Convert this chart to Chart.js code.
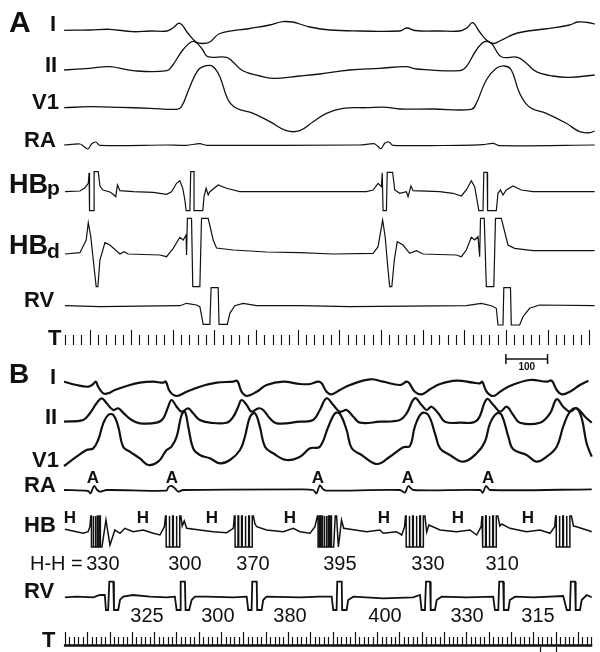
<!DOCTYPE html>
<html>
<head>
<meta charset="utf-8">
<script src="https://cdn.jsdelivr.net/npm/chart.js@4/dist/chart.umd.min.js"></script>
<style>
html, body { margin: 0; padding: 0; background: #fff; }
#wrap { width: 600px; height: 652px; }
</style>
</head>
<body>
<div id="wrap"><canvas id="ecg" width="600" height="652"></canvas></div>
<script>
// samples are [time in ms, deflection] read off the tracing
// panel A (sinus beats)
var aLeadI = [[-61,0.7],[1,1],[49,1.7],[104,-0.7],[145,0],[186,0],[200,3],[217,7.7],[236,-2],[256,-11],[272,-12.5],[289,-11],[313,-2.5],[385,2.5],[433,6],[464,9.3],[488,9],[505,7],[529,4],[577,1],[649,0],[745,0],[762,3],[781,0.5],[841,0],[889,0],[906,3],[920,8.3],[937,-1],[956,-10],[971,-12.5],[985,-10],[1028,-2],[1093,2],[1153,6],[1172,9],[1196,8.5],[1213,7]];
var aLeadII = [[-61,0],[1,1.7],[49,3.3],[104,-0.7],[186,-0.7],[200,5],[224,20],[245,28.3],[257,27.3],[272,20],[284,13.3],[329,12.7],[344,8.3],[368,-0.7],[409,-6],[440,-8.3],[505,-6],[553,-4],[625,0],[697,1.7],[761,3.3],[785,1],[889,-0.7],[905,3.3],[929,20],[949,28.3],[965,26.7],[989,13.3],[1028,12.7],[1049,6.7],[1073,-1.7],[1112,-6],[1153,-7.3],[1213,-5]];
var aV1 = [[-61,0.3],[1,1.3],[73,0.7],[145,-0.3],[209,-1.3],[221,1.3],[241,21.3],[261,38],[281,42.3],[297,41.3],[313,31.3],[333,8],[353,-0.3],[393,-5.3],[433,-13.7],[473,-22.7],[505,-22.7],[537,-13.7],[569,-5.3],[609,-0.3],[665,0.3],[713,0.7],[745,-1],[825,-1],[917,-1.3],[929,4.7],[953,28],[977,39.7],[997,42],[1013,38],[1033,14.7],[1057,0.7],[1097,-5.3],[1145,-15.3],[1177,-23.7],[1201,-24.7],[1213,-23]];
var aRA = [[-61,0],[-23,1],[-15,-1],[-4,-4],[5,1],[15,3],[25,-0.3],[185,0],[233,-0.3],[265,1.3],[281,-0.3],[649,0],[683,1.3],[691,-0.7],[700,-3.7],[709,1.7],[719,3],[729,-0.3],[889,-0.3],[945,0.3],[969,1.7],[985,-0.7],[1213,0]];
var aHBp = [[-59,0.3],[-23,1],[-11,4.3],[-3,8.7],[-1,19.3],[0,-18.7],[11,-18.7],[11,20.3],[21,20.3],[25,6],[32,2],[49,0],[56,-2],[63,-4.7],[67,7],[73,1.3],[105,0.3],[153,-0.3],[185,-2.3],[197,0.3],[209,8.7],[217,11.3],[224,3.7],[229,-8],[232,-18.7],[241,-18.7],[243,20.3],[251,20.3],[251,-18.7],[272,-18.7],[275,-4.7],[280,3.7],[285,-3],[289,0.3],[309,7],[329,3.7],[361,0.3],[505,0.3],[665,0.3],[681,2],[693,8.7],[701,5.3],[703,19.3],[705,-18.7],[713,-18.7],[715,19.7],[728,19.7],[733,2],[745,-1.3],[761,0.3],[765,-4.7],[772,6],[777,1.3],[841,0.3],[873,-1.3],[893,-4],[905,2],[917,11.3],[925,5.3],[935,-18.7],[945,-18.7],[947,19.7],[955,19.7],[956,-18.7],[977,-18.7],[981,-1.3],[987,2],[993,-3],[1001,2],[1017,6],[1037,2],[1065,0.3],[1213,0.3]];
var aHBd = [[-59,-1],[-23,0.3],[-8,13],[-3,30.3],[3,16.3],[9,-7],[16,-33.7],[20,-33.7],[25,-7],[37,10.3],[49,8],[73,-1],[83,1.3],[93,-1],[169,-2],[185,-3.7],[201,4.7],[217,15.7],[225,13],[232,18],[233,-2],[235,34.7],[245,34.7],[248,-33.7],[265,-33.7],[269,34.7],[285,34.7],[297,13],[305,5],[345,3],[425,1],[505,0.3],[585,-1],[681,-0.3],[693,6.3],[704,33],[710,16.3],[717,-17],[721,-33.7],[726,-33.7],[732,-7],[739,11.3],[753,8],[769,-0.3],[785,2.3],[801,-1],[881,-2],[893,-3.7],[905,3],[917,15.7],[925,13],[933,16.3],[937,-3.7],[939,34.7],[948,34.7],[953,-33.7],[971,-33.7],[975,34.7],[989,34.7],[1005,8],[1021,4.7],[1065,2.3],[1213,2.3]];
var aRV = [[-59,0.3],[25,-0.7],[217,0.3],[233,2.7],[257,1],[265,-0.7],[273,-18.3],[289,-18.3],[292,18.3],[309,18.3],[311,-18.3],[331,-18.3],[337,-7.3],[349,0.3],[369,2.7],[401,0.3],[505,0.3],[625,-0.7],[905,0.3],[941,2.7],[965,0.3],[977,-2.3],[981,-19],[993,-19],[995,18.3],[1011,18.3],[1013,-19],[1033,-19],[1041,-10.7],[1057,-2.3],[1081,1],[1213,0.3]];

// panel B (tachycardia)
var bLeadI = [[-4,0.3],[52,-3],[104,-4.7],[127,-2],[139,0.3],[149,-4.7],[172,-11.3],[194,-11.3],[224,-8],[277,-4],[336,-0.7],[396,0.3],[441,-0.7],[452,0.5],[471,-9.7],[501,-14],[546,-9.7],[605,-4.7],[680,-0.7],[755,0.3],[773,1],[792,-9.7],[815,-14],[860,-9.7],[904,-3],[979,0.3],[1054,-2],[1099,-2],[1136,0.3],[1151,-1.3],[1173,-9.7],[1196,-12.3],[1233,-8],[1278,-3],[1368,2.7],[1427,0.3],[1502,-3],[1532,0.3],[1544,-1.3],[1569,-9.7],[1599,-12.3],[1637,-7.3],[1682,-2],[1756,1.3],[1831,-0.7],[1861,-1.3],[1871,0.3],[1891,-9.7],[1921,-14],[1951,-9.7],[1995,-4],[2085,2],[2160,0.3],[2182,1.3],[2205,-8],[2227,-12.3],[2264,-9.7],[2309,-3],[2347,1.3]];
var bLeadII = [[-4,0.3],[82,2],[112,8.7],[142,18.7],[165,23.7],[187,18.7],[217,12],[239,13.7],[261,9.3],[299,2],[336,-1.3],[411,-0.7],[441,3.7],[463,15.3],[478,22],[501,15.3],[523,10.3],[553,13.7],[575,8.7],[605,2],[650,-0.7],[725,-0.7],[755,5.3],[777,15.3],[792,22],[815,17],[837,10.3],[867,13.7],[889,12],[919,3.7],[949,-1.3],[1054,0.3],[1113,2],[1143,12],[1173,23.7],[1203,17],[1233,10.3],[1263,12],[1293,5.3],[1323,-0.7],[1412,0.3],[1502,2],[1532,8.7],[1569,23.7],[1599,17],[1622,12],[1644,15.3],[1674,8.7],[1704,0.3],[1771,-0.7],[1846,1.3],[1891,22.7],[1921,17],[1951,10.3],[1981,15.3],[2010,7],[2040,-0.7],[2130,-0.7],[2175,8.7],[2205,22.7],[2234,15.3],[2264,10.3],[2294,13.7],[2332,5.3],[2362,-0.7]];
var bV1 = [[-4,-11],[52,-1.7],[97,5],[127,6.7],[149,15],[172,31.7],[194,40],[217,40],[239,28.3],[261,8.3],[291,3.3],[336,-3.3],[374,-10],[418,-6.7],[456,5],[478,8.3],[501,18.3],[523,40],[538,43.3],[553,28.3],[575,6.7],[605,0],[650,-3.3],[695,-8.3],[740,-5],[785,5],[807,18.3],[830,38.3],[852,41.7],[874,28.3],[897,8.3],[934,1.7],[994,-5],[1054,-1.7],[1099,6.7],[1143,8.3],[1181,28.3],[1211,41.7],[1233,41],[1263,25],[1286,6.7],[1330,0],[1398,-9],[1457,-1.7],[1517,7.7],[1547,9],[1569,28.3],[1599,41.7],[1629,40],[1659,21.7],[1682,6.7],[1726,0],[1786,-6.7],[1846,1.7],[1883,13.3],[1906,31.7],[1936,41.7],[1958,40],[1988,18.3],[2010,5.7],[2070,0],[2115,-6.7],[2160,-1.7],[2205,8.3],[2234,28.3],[2264,43.3],[2294,46.7],[2317,36.7],[2339,11.7],[2362,-1.7]];
var bRA = [[-4,0],[104,-1],[115,-3.3],[131,4],[145,0],[157,-1.7],[187,0],[456,-0.7],[463,2.7],[478,4],[493,1.7],[508,-1.7],[530,0],[1054,0.7],[1113,0],[1128,-3.3],[1143,4.7],[1158,0.7],[1173,-0.7],[1502,0],[1525,-2.7],[1539,4],[1562,0],[1861,0],[1873,-2.7],[1888,4],[1906,0],[2362,0.7]];
var bHB = [[0,0.7],[82,-3.3],[104,-1.7],[112,3.3],
    [116,14],[119,14],[119,-17],[126,-17],[126,14],[129,14],[129,-17],[136,-17],[136,14],[139,14],[139,-17],[146,-17],[146,14],[149,14],[149,-17],[156,-17],[156,14],[159,14],[159,-17],[166,-17],
    [184,10],[202,-15],[224,0],[247,-3.3],[269,1.7],[306,-1.7],[351,0],[396,-3.3],[426,-5],[446,3.3],
    [451,14],[454,14],[454,-17],[467,-17],[467,14],[470,14],[470,-17],[483,-17],[483,14],[486,14],[486,-17],[499,-17],[499,14],[502,14],[502,-17],[515,-17],[515,14],[520,14],[526,4],
    [535,9],[546,1.7],[605,0],[665,-1.7],[725,-2.7],[755,1.7],
    [760,14],[763,14],[763,-17],[776,-17],[776,14],[779,14],[779,-17],[792,-17],[792,14],[795,14],[795,-17],[808,-17],[808,14],[811,14],[811,-17],[824,-17],[824,14],[827,14],[827,-17],[840,-17],[840,14],[845,14],[852,6],
    [860,3.3],[904,0],[979,-1.7],[1024,1.7],[1054,-1.7],[1099,-3.3],[1121,3.3],
    [1132,14],[1135,14],[1135,-17],[1142,-17],[1142,14],[1145,14],[1145,-17],[1152,-17],[1152,14],[1155,14],[1155,-17],[1162,-17],[1162,14],[1165,14],[1165,-17],[1172,-17],[1172,14],[1175,14],[1175,-17],[1182,-17],[1182,14],[1185,14],[1185,-17],[1192,-17],[1192,14],[1195,14],[1195,-17],[1205,-17],[1212,14],[1218,14],[1226,-17],[1232,-6],
    [1240,10],[1250,1.7],[1353,-1.7],[1412,0],[1427,-3.3],[1487,-1.7],[1510,-5],[1523,3.3],
    [1527,14],[1530,14],[1530,-17],[1543,-17],[1543,14],[1546,14],[1546,-17],[1559,-17],[1559,14],[1562,14],[1562,-17],[1575,-17],[1575,14],[1578,14],[1578,-17],[1591,-17],[1591,14],[1594,14],[1594,-17],[1607,-17],[1607,14],[1614,14],[1622,-2],
    [1632,5],[1682,0],[1756,-1.7],[1816,0],[1846,-5],[1866,3.3],
    [1870,14],[1873,14],[1873,-17],[1886,-17],[1886,14],[1889,14],[1889,-17],[1902,-17],[1902,14],[1905,14],[1905,-17],[1918,-17],[1918,14],[1921,14],[1921,-17],[1934,-17],[1934,14],[1941,14],[1950,4],
    [1958,6],[1995,1.7],[2070,-1.7],[2130,0],[2175,-3.3],[2196,3.3],
    [2200,14],[2203,14],[2203,-17],[2216,-17],[2216,14],[2219,14],[2219,-17],[2232,-17],[2232,14],[2235,14],[2235,-17],[2248,-17],[2248,14],[2251,14],[2251,-17],[2264,-17],[2264,14],[2271,14],[2280,4],
    [2294,3.3],[2339,0],[2362,-1.7]];
var bRV = [[0,-0.3],[52,0.3],[127,-0.3],[157,2],[179,2],[184,-13],[194,-13],[199,15.3],[217,15.3],[220,-13],[239,-13],[247,-3],[261,0.3],[306,2],[381,0.3],[456,-0.3],[493,0.3],[501,-13],[516,-13],[519,15.3],[538,15.3],[541,-13],[557,-13],[568,-3],[583,0.3],[635,0.3],[755,-0.3],[815,0.3],[822,-13],[837,-13],[840,15.3],[860,15.3],[862,-13],[882,-13],[889,-3],[904,0.3],[1054,-0.3],[1143,0.3],[1196,0.3],[1203,-13],[1218,-13],[1221,15.3],[1241,15.3],[1243,-13],[1263,-13],[1270,-3],[1293,0.3],[1427,-1.3],[1561,-0.3],[1592,2],[1599,-13],[1614,-13],[1619,15.3],[1637,15.3],[1640,-13],[1659,-13],[1667,-3],[1689,0.3],[1801,-0.3],[1920,0.3],[1928,-13],[1943,-13],[1947,15.3],[1965,15.3],[1968,-13],[1988,-13],[1995,-3],[2018,0.3],[2100,-0.3],[2234,1],[2250,-13],[2264,-13],[2268,15.3],[2287,15.3],[2290,-13],[2309,-13],[2317,-3],[2339,2],[2362,-0.3]];

// measured intervals (ms) and where their labels sit on the B time axis
var hhIntervals = [330, 300, 370, 395, 330, 310];
var hhLabelAt = [170, 538, 843, 1233, 1628, 1960];
var rvIntervals = [325, 300, 380, 400, 330, 315];
var rvLabelAt = [368, 686, 1009, 1435, 1803, 2121];
var hMarks = [22, 350, 659, 1009, 1430, 1762, 2076];
var aMarks = [126, 480, 1134, 1538, 1897];

// time markers
var tickA = {from: -60, to: 1200, step: 20, major: 100};
var tickB = {from: 0, to: 2360, step: 20, major: 100};
var scaleBar = [1000, 1100];
var footMarks = [2128, 2200];

var traces = [
    {pts: aLeadI, row: 31, x: 'xA', w: 1.3, t: 0.4},
    {pts: aLeadII, row: 70, x: 'xA', w: 1.3, t: 0.4},
    {pts: aV1, row: 108, x: 'xA', w: 1.3, t: 0.4},
    {pts: aRA, row: 145, x: 'xA', w: 1.2, t: 0.3},
    {pts: aHBp, row: 192, x: 'xA', w: 1.2, t: 0},
    {pts: aHBd, row: 253, x: 'xA', w: 1.2, t: 0},
    {pts: aRV, row: 306, x: 'xA', w: 1.2, t: 0},
    {pts: bLeadI, row: 382, x: 'xB', w: 2.2, t: 0.4},
    {pts: bLeadII, row: 422, x: 'xB', w: 2.2, t: 0.4},
    {pts: bV1, row: 455, x: 'xB', w: 2.2, t: 0.4},
    {pts: bRA, row: 490, x: 'xB', w: 1.8, t: 0.3},
    {pts: bHB, row: 530, x: 'xB', w: 1.5, t: 0},
    {pts: bRV, row: 597, x: 'xB', w: 1.8, t: 0}
];

var FONT = '"Liberation Sans", Arial, Helvetica, sans-serif';

var textPlugin = {
    id: 'textPlugin',
    afterDraw: function (chart) {
        var ctx = chart.ctx;
        var xA = chart.scales.xA, xB = chart.scales.xB, y = chart.scales.y;
        var py = function (v) { return y.getPixelForValue(-v); };
        ctx.save();
        ctx.fillStyle = '#111';
        ctx.strokeStyle = '#111';

        function txt(s, x, yy, font, align) {
            ctx.font = font + ' ' + FONT;
            ctx.textAlign = align || 'left';
            ctx.textBaseline = 'alphabetic';
            ctx.fillText(s, x, yy);
        }

        // lead names
        txt('A', 9, 32, 'bold 30px');
        txt('I', 50, 31, 'bold 22px');
        txt('II', 45, 72, 'bold 22px');
        txt('V1', 32, 109, 'bold 22px');
        txt('RA', 24, 147, 'bold 22px');
        txt('HB', 9, 193, 'bold 27px');
        txt('p', 47, 195, 'bold 21px');
        txt('HB', 9, 254, 'bold 27px');
        txt('d', 47, 258, 'bold 21px');
        txt('RV', 24, 307, 'bold 22px');
        txt('T', 48, 345, 'bold 22px');

        txt('B', 9, 383, 'bold 28px');
        txt('I', 50, 384, 'bold 22px');
        txt('II', 45, 424, 'bold 22px');
        txt('V1', 32, 467, 'bold 22px');
        txt('RA', 24, 492, 'bold 22px');
        txt('HB', 24, 532, 'bold 22px');
        txt('RV', 24, 598, 'bold 22px');
        txt('T', 42, 647, 'bold 22px');

        // A and H annotations, intervals
        aMarks.forEach(function (t) { txt('A', xB.getPixelForValue(t), 483, 'bold 17px', 'center'); });
        hMarks.forEach(function (t) { txt('H', xB.getPixelForValue(t), 523, 'bold 17px', 'center'); });
        txt('H-H =', 30, 570, '20px');
        hhIntervals.forEach(function (v, i) { txt(String(v), xB.getPixelForValue(hhLabelAt[i]), 570, '20px', 'center'); });
        rvIntervals.forEach(function (v, i) { txt(String(v), xB.getPixelForValue(rvLabelAt[i]), 622, '20px', 'center'); });

        // time ticks, panel A
        ctx.lineWidth = 1.1;
        ctx.beginPath();
        for (var t = tickA.from; t <= tickA.to; t += tickA.step) {
            var x = Math.round(xA.getPixelForValue(t)) + 0.5;
            ctx.moveTo(x, py(345));
            ctx.lineTo(x, py(t % tickA.major === 0 ? 330 : 335));
        }
        ctx.stroke();

        // scale bar 100 ms
        var s0 = xA.getPixelForValue(scaleBar[0]), s1 = xA.getPixelForValue(scaleBar[1]);
        ctx.lineWidth = 1.5;
        ctx.beginPath();
        ctx.moveTo(s0, py(359)); ctx.lineTo(s1, py(359));
        ctx.moveTo(s0, py(354)); ctx.lineTo(s0, py(364));
        ctx.moveTo(s1, py(354)); ctx.lineTo(s1, py(364));
        ctx.stroke();
        txt(String(scaleBar[1] - scaleBar[0]), (s0 + s1) / 2, 370, 'bold 10px', 'center');

        // time ticks, panel B
        ctx.lineWidth = 1.2;
        ctx.beginPath();
        for (var u = tickB.from; u <= tickB.to; u += tickB.step) {
            var xb = Math.round(xB.getPixelForValue(u)) + 0.5;
            ctx.moveTo(xb, py(645));
            ctx.lineTo(xb, py(u % tickB.major === 0 ? 632 : 637));
        }
        footMarks.forEach(function (f) {
            var xf = Math.round(xB.getPixelForValue(f)) + 0.5;
            ctx.moveTo(xf, py(647));
            ctx.lineTo(xf, py(652));
        });
        ctx.stroke();
        ctx.lineWidth = 2.4;
        ctx.beginPath();
        ctx.moveTo(xB.getPixelForValue(tickB.from) - 1, py(645.5));
        ctx.lineTo(xB.getPixelForValue(tickB.to) + 1, py(645.5));
        ctx.stroke();
        ctx.restore();
    }
};

var datasets = traces.map(function (tr) {
    return {
        data: tr.pts.map(function (p) { return {x: p[0], y: p[1] - tr.row}; }),
        xAxisID: tr.x,
        yAxisID: 'y',
        showLine: true,
        borderColor: '#111',
        borderWidth: tr.w,
        pointRadius: 0,
        tension: tr.t,
        fill: false
    };
});

var ecgChart = new Chart(document.getElementById('ecg').getContext('2d'), {
    type: 'scatter',
    data: {datasets: datasets},
    options: {
        responsive: false,
        animation: false,
        devicePixelRatio: 1,
        layout: {padding: 0},
        plugins: {legend: {display: false}, tooltip: {enabled: false}},
        scales: {
            xA: {type: 'linear', min: -215, max: 1226, display: false},
            xB: {type: 'linear', min: -291, max: 2399, display: false},
            y: {type: 'linear', min: -652, max: 0, display: false}
        }
    },
    plugins: [textPlugin]
});
</script>
</body>
</html>
